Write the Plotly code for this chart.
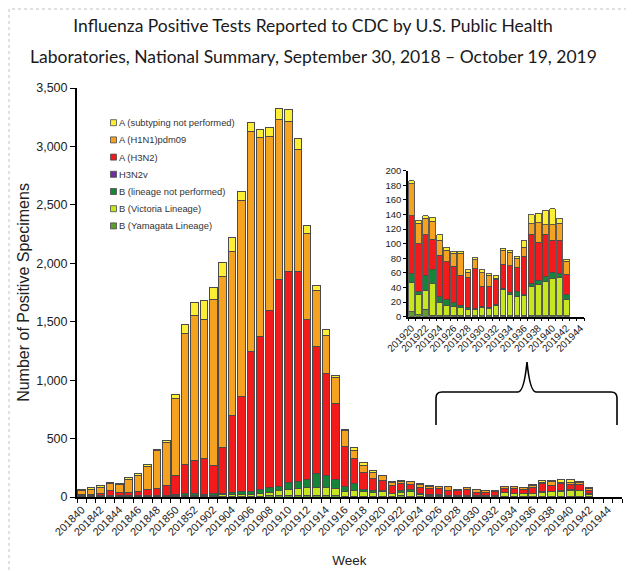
import plotly.graph_objects as go

# ---------------- data ----------------
weeks = ["201840", "201841", "201842", "201843", "201844", "201845", "201846",
         "201847", "201848", "201849", "201850", "201851", "201852",
         "201901", "201902", "201903", "201904", "201905", "201906", "201907",
         "201908", "201909", "201910", "201911", "201912", "201913", "201914",
         "201915", "201916", "201917", "201918", "201919", "201920", "201921",
         "201922", "201923", "201924", "201925", "201926", "201927", "201928",
         "201929", "201930", "201931", "201932", "201933", "201934", "201935",
         "201936", "201937", "201938", "201939", "201940", "201941", "201942",
         "201943", "201944", "201945"]

week_labels = ["201840", "", "201842", "", "201844", "", "201846", "",
               "201848", "", "201850", "", "201852",
               "", "201902", "", "201904", "", "201906", "", "201908", "",
               "201910", "", "201912", "", "201914", "", "201916", "",
               "201918", "", "201920", "", "201922", "", "201924", "",
               "201926", "", "201928", "", "201930", "", "201932", "",
               "201934", "", "201936", "", "201938", "", "201940", "",
               "201942", "", "201944", ""]

b_yamagata = [2, 2, 2, 2, 2, 2, 2, 2, 2, 3, 3, 5, 5, 4, 5, 6, 6, 7, 6, 8,
              10, 12, 12, 14, 15, 15, 14, 12, 8, 8, 6, 5, 7, 3, 10, 2, 1, 1, 2, 2,
              1, 1, 1, 1, 2, 2, 1, 1, 1, 1, 1, 1, 1, 1, 1]
b_victoria = [2, 3, 3, 4, 3, 4, 4, 5, 5, 6, 7, 12, 12, 10, 12, 14, 15, 16, 15, 22,
              30, 40, 50, 60, 65, 70, 70, 58, 42, 45, 38, 32, 40, 27, 26, 43, 18, 15, 12, 11,
              9, 9, 11, 10, 13, 35, 29, 27, 28, 41, 43, 47, 51, 53, 22]
b_lineage_np = [8, 7, 8, 8, 7, 7, 7, 8, 8, 8, 10, 12, 10, 8, 10, 12, 18, 27, 26, 30,
                40, 38, 63, 61, 70, 113, 101, 80, 43, 61, 19, 20, 12, 4, 20, 19, 8, 7, 5, 3,
                3, 1, 2, 2, 2, 2, 3, 6, 1, 4, 6, 7, 9, 5, 7]
h3n2v = [0, 0, 0, 0, 0, 0, 0, 0, 0, 0, 0, 0, 0, 0, 0, 0, 0, 0, 0, 0,
         0, 0, 0, 0, 0, 0, 0, 0, 0, 0, 0, 0, 0, 0, 0, 0, 0, 0, 0, 0,
         0, 0, 0, 0, 0, 0, 0, 0, 0, 0, 0, 0, 0, 0, 0]
a_h3n2 = [8, 13, 20, 40, 25, 25, 30, 50, 60, 85, 160, 250, 282, 307, 239, 388, 661, 807, 1201, 1311,
          1520, 1773, 1809, 1799, 1370, 1094, 872, 650, 340, 214, 147, 103, 79, 66, 56, 42, 57, 52, 50, 41,
          41, 55, 28, 29, 34, 33, 37, 34, 53, 67, 52, 58, 44, 46, 28]
a_h1n1 = [35, 43, 50, 58, 68, 115, 143, 200, 320, 362, 665, 1120, 1240, 1191, 1428, 1465, 1400, 1680, 1883, 1709,
          1483, 1371, 1280, 1043, 737, 473, 329, 220, 133, 71, 60, 50, 44, 28, 23, 25, 21, 16, 18, 30,
          7, 12, 18, 15, 2, 19, 18, 12, 12, 14, 27, 13, 21, 23, 18]
a_unsubtyped = [10, 12, 14, 13, 9, 17, 16, 14, 15, 20, 35, 78, 119, 160, 100, 123, 120, 74, 77, 63,
                80, 94, 106, 94, 65, 43, 44, 16, 13, 26, 22, 14, 4, 4, 3, 5, 7, 4, 3, 3,
                3, 3, 4, 2, 4, 3, 3, 3, 10, 13, 13, 20, 22, 7, 3]

y_ticks = [0, 500, 1000, 1500, 2000, 2500, 3000, 3500]
inset_y_ticks = [0, 20, 40, 60, 80, 100, 120, 140, 160, 180, 200]

inset_first = "201920"
inset_last = "201944"

title_line1 = "Influenza Positive Tests Reported to CDC by U.S. Public Health"
title_line2 = "Laboratories, National Summary, September 30, 2018 \u2013 October 19, 2019"

series = [
    ("B (Yamagata Lineage)", b_yamagata, "#5E9E2E"),
    ("B (Victoria Lineage)", b_victoria, "#C6E620"),
    ("B (lineage not performed)", b_lineage_np, "#16853A"),
    ("H3N2v", h3n2v, "#7030A0"),
    ("A (H3N2)", a_h3n2, "#F21A1A"),
    ("A (H1N1)pdm09", a_h1n1, "#F4A21F"),
    ("A (subtyping not performed)", a_unsubtyped, "#FCEE35"),
]

n_data = len(a_h3n2)
data_weeks = weeks[:n_data]
i0 = weeks.index(inset_first)
i1 = weeks.index(inset_last)
inset_weeks = weeks[i0:i1 + 1]
inset_labels = week_labels[i0:i1 + 1]

# ---------------- geometry ----------------
# the page body adds an 8px offset, so the figure is drawn 8px smaller
OFF = 8
W, H = 634 - OFF, 571 - OFF
L, R, T, B = 69, 12, 80, 74
PW, PH = W - L - R, H - T - B


def px(x):
    """reference-window x pixel -> paper x"""
    return (x - OFF - L) / PW


def py(y):
    """reference-window y pixel -> paper y"""
    return (H - B - (y - OFF)) / PH


FONT = "Liberation Sans, Arial, sans-serif"
TITLE_FONT = "Lato, Open Sans, sans-serif"
OUTLINE = "#4a4a4a"

fig = go.Figure()

for name, vals, col in series:
    fig.add_trace(go.Bar(
        x=data_weeks, y=vals, name=name, marker_color=col,
        marker_line=dict(color=OUTLINE, width=1),
        xaxis="x", yaxis="y", showlegend=False,
    ))
for name, vals, col in series:
    fig.add_trace(go.Bar(
        x=data_weeks[i0:], y=vals[i0:], name=name, marker_color=col,
        marker_line=dict(color=OUTLINE, width=0.9),
        xaxis="x2", yaxis="y2", showlegend=False,
    ))

fig.update_layout(
    width=W, height=H,
    margin=dict(l=L, r=R, t=T, b=B),
    paper_bgcolor="white", plot_bgcolor="rgba(0,0,0,0)",
    barmode="stack", bargap=0.2,
    font=dict(family=FONT, color="#222222"),
    title=dict(
        text=title_line1,
        x=(313 - OFF) / W, xanchor="center", xref="container",
        y=1 - (26 - OFF) / H, yanchor="middle", yref="container",
        font=dict(family=TITLE_FONT, size=17.5, color="#1a1a1a"),
    ),
    xaxis=dict(
        type="category", categoryorder="array", categoryarray=weeks,
        range=[-0.5, len(weeks) - 0.5],
        tickmode="array", tickvals=weeks, ticktext=week_labels,
        tickangle=-45, tickson="boundaries", ticks="outside", ticklen=4,
        tickcolor="black", tickfont=dict(size=11, color="#222"),
        showline=True, linecolor="black", linewidth=2, showgrid=False,
        automargin=False,
        title=dict(text="Week", font=dict(size=13.5, color="#222"), standoff=19),
        domain=[0, 1],
    ),
    yaxis=dict(
        range=[0, 3500], tickmode="array", tickvals=y_ticks, tickformat=",d",
        ticks="outside", ticklen=5, tickcolor="black",
        tickfont=dict(size=12.5, color="#222"),
        showline=True, linecolor="black", linewidth=2, showgrid=False,
        zeroline=False, automargin=False,
        title=dict(text="Number of Positive Specimens",
                   font=dict(size=16, color="#222"), standoff=3),
        domain=[0, 1],
    ),
    xaxis2=dict(
        type="category", categoryorder="array", categoryarray=inset_weeks,
        range=[-0.5, len(inset_weeks) - 0.5],
        tickmode="array", tickvals=inset_weeks, ticktext=inset_labels,
        tickangle=-45, tickson="boundaries", ticks="outside", ticklen=3,
        tickcolor="black", tickfont=dict(size=10, color="#222"),
        showline=True, linecolor="black", linewidth=1.5, showgrid=False,
        automargin=False, anchor="y2", domain=[px(408), px(584)],
    ),
    yaxis2=dict(
        range=[0, 200], tickmode="array", tickvals=inset_y_ticks,
        ticks="outside", ticklen=3, tickcolor="black",
        tickfont=dict(size=9.5, color="#222"),
        showline=True, linecolor="black", linewidth=1.5, showgrid=False,
        zeroline=False, automargin=False, anchor="x2",
        domain=[py(316.7), py(170.7)],
    ),
)

shapes = []
annotations = [dict(
    text=title_line2, xref="paper", yref="paper", x=px(313), y=py(57),
    xanchor="center", yanchor="middle", showarrow=False,
    font=dict(family=TITLE_FONT, size=17.5, color="#1a1a1a"),
)]

# ---------------- legend (drawn inside plot) ----------------
legend_order = list(reversed(series))
for k, (name, vals, col) in enumerate(legend_order):
    yc = 122.7 + 17.2 * k
    shapes.append(dict(
        type="rect", xref="paper", yref="paper",
        x0=px(110.5), x1=px(116.5), y0=py(yc + 3), y1=py(yc - 3),
        fillcolor=col, line=dict(color=OUTLINE, width=0.8),
    ))
    annotations.append(dict(
        text=name, xref="paper", yref="paper", x=px(116.5), y=py(yc),
        xanchor="left", yanchor="middle", showarrow=False,
        font=dict(size=9.4, color="#333333", family=FONT),
    ))

# curly bracket pointing at the inset
brace = ("M {a},{b} L {a},{c} Q {a},{d} {e},{d} L {f},{d} Q {g},{d} {h},{i} "
         "Q {j},{d} {k},{d} L {l},{d} Q {m},{d} {m},{c} L {m},{b}").format(
    a=px(436), b=py(425), c=py(398), d=py(392), e=px(442), f=px(518),
    g=px(524), h=px(527), i=py(362), j=px(530), k=px(536), l=px(611), m=px(617))
shapes.append(dict(type="path", xref="paper", yref="paper", path=brace,
                   line=dict(color="black", width=1.6)))

# dotted frame along the top and left edges
shapes.append(dict(type="rect", xref="paper", yref="paper",
                   x0=px(OFF + 1), x1=px(634 + 20), y0=py(571 + 20), y1=py(OFF + 1),
                   line=dict(color="#c0c0c0", width=1, dash="dot")))

fig.update_layout(shapes=shapes, annotations=annotations)

fig.write_html("out.html")
